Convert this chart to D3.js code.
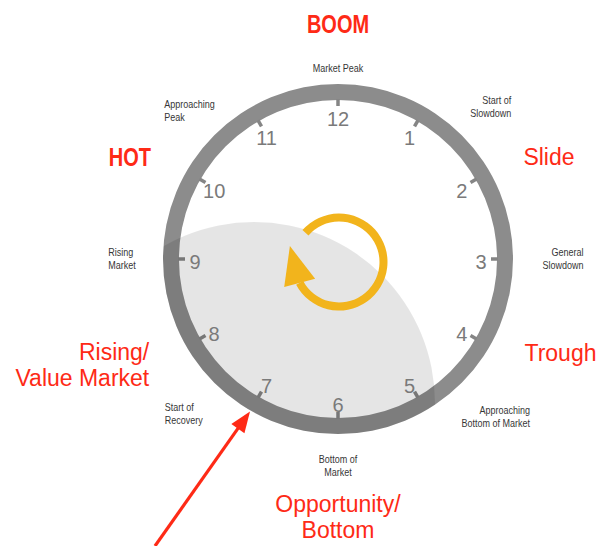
<!DOCTYPE html>
<html><head><meta charset="utf-8">
<script src="https://cdn.jsdelivr.net/npm/d3@7"></script>
<style>html,body{margin:0;padding:0;background:#fff;} svg{display:block;}</style>
</head><body>
<svg id="chart" width="598" height="546"></svg>
<script>
// ---- data ----
const hours = [12, 1, 2, 3, 4, 5, 6, 7, 8, 9, 10, 11];
const stageHours = [0, 1.5, 3, 4.5, 6, 7.5, 9, 10.5];
const stageNames = [
  ["Market Peak"], ["Start of", "Slowdown"], ["General", "Slowdown"],
  ["Approaching", "Bottom of Market"], ["Bottom of", "Market"],
  ["Start of", "Recovery"], ["Rising", "Market"], ["Approaching", "Peak"]
];
const phaseNames = [["BOOM"], ["Slide"], ["Trough"], ["Opportunity/", "Bottom"], ["Rising/", "Value Market"], ["HOT"]];
const pointerHour = 7;          // red arrow points at 7 o'clock
const cycleStartHour = 10.37;   // yellow cycle arrow start
const cycleEndHour = 8.07;      // yellow cycle arrow end (after a full turn)

// ---- layout ----
const W = 598, H = 546, cx = 338, cy = 259;
const Rout = 175, Rin = 159;
const stageLayout = [
  {r: 191, align: "middle"}, {r: 216, align: "end"}, {r: 225, align: "end"},
  {r: 223, align: "end"}, {r: 207, align: "middle"}, {r: 218, align: "start"},
  {r: 216, align: "start"}, {r: 210, align: "start"}
];
const phaseLayout = [
  {h: 0, r: 235, align: "middle", bold: true},
  {h: 2.137, r: 234.5, align: "middle"},
  {h: 3.765, r: 241.6, align: "middle"},
  {h: 6, r: 257.7, align: "middle"},
  {h: 8.25, r: 276.7, align: "end"},
  {h: 9.87, r: 231.7, align: "middle", bold: true}
];

const svg = d3.select("#chart");
const ang = d3.scaleLinear().domain([0, 12]).range([0, 2 * Math.PI]);
const pol = (h, r) => [r * Math.sin(ang(h)), -r * Math.cos(ang(h))];

const defs = svg.append("defs");
defs.append("clipPath").attr("id", "clockClip")
  .append("circle").attr("cx", 0).attr("cy", 0).attr("r", Rout);

const g = svg.append("g").attr("transform", `translate(${cx},${cy})`);

// ring
g.append("path")
  .attr("d", d3.arc()({innerRadius: Rin, outerRadius: Rout, startAngle: 0, endAngle: 2 * Math.PI}))
  .attr("fill", "#8c8c8c");

// ticks
g.selectAll("line.tk").data(hours).join("line").attr("class", "tk")
  .attr("x1", d => pol(d % 12, Rin + 1)[0]).attr("y1", d => pol(d % 12, Rin + 1)[1])
  .attr("x2", d => pol(d % 12, Rin - 6)[0]).attr("y2", d => pol(d % 12, Rin - 6)[1])
  .attr("stroke", "#858585").attr("stroke-width", 3.5);

// shaded region (lower-left part of cycle)
g.append("circle")
  .attr("cx", -84).attr("cy", 144).attr("r", 181)
  .attr("fill", "#000").attr("fill-opacity", 0.1)
  .attr("clip-path", "url(#clockClip)");

// numbers
g.append("g").attr("transform", "translate(0,3)")
  .selectAll("text").data(hours).join("text")
  .attr("x", d => pol(d % 12, 143)[0]).attr("y", d => pol(d % 12, 143)[1])
  .attr("dy", "0.36em").attr("text-anchor", "middle")
  .attr("font-family", "'Liberation Sans', Arial, sans-serif").attr("font-size", 20)
  .attr("fill", "#7a7a7a").text(d => d);

// yellow cycle arrow
const yc = g.append("g").attr("transform", "translate(1,3)");
const yR = 44.5, yW = 8;
yc.append("path")
  .attr("d", d3.arc()({innerRadius: yR - yW / 2, outerRadius: yR + yW / 2,
    startAngle: ang(cycleStartHour) - 2 * Math.PI, endAngle: ang(cycleEndHour)}))
  .attr("fill", "#f2b41c");
{
  const t = ang(cycleEndHour);
  const b = [yR * Math.sin(t), -yR * Math.cos(t)];
  const rot = 13 * Math.PI / 180;
  const a0 = Math.atan2(Math.sin(t), Math.cos(t)) + rot;
  const tan = [Math.cos(a0), Math.sin(a0)];
  const nrm = [-tan[1], tan[0]];
  const L = 38, hw = 16;
  const pts = [[b[0] + L * tan[0], b[1] + L * tan[1]],
               [b[0] + hw * nrm[0], b[1] + hw * nrm[1]],
               [b[0] - hw * nrm[0], b[1] - hw * nrm[1]]];
  yc.append("path").attr("d", d3.line()(pts) + "Z").attr("fill", "#f2b41c");
}

// text blocks (sx < 1 gives a condensed face)
function block(parent, lines, c, align, fs, lh, opts) {
  const sx = opts.sx || 1;
  const grp = parent.append("g");
  const texts = lines.map(s => grp.append("text").text(s)
    .attr("font-family", "'Liberation Sans', Arial, sans-serif").attr("font-size", fs)
    .attr("font-weight", opts.weight || "normal").attr("fill", opts.fill)
    .attr("text-anchor", align));
  const maxW = d3.max(texts, t => t.node().getComputedTextLength()) * sx;
  const x = align === "start" ? c[0] - maxW / 2 : align === "end" ? c[0] + maxW / 2 : c[0];
  texts.forEach((t, i) => {
    const y = c[1] + (i - (lines.length - 1) / 2) * lh + 0.36 * fs;
    t.attr("transform", `translate(${x},${y}) scale(${sx},1)`);
  });
}
stageNames.forEach((lines, i) => {
  block(g, lines, pol(stageHours[i], stageLayout[i].r), stageLayout[i].align, 11, 13,
    {fill: "#363636", sx: 0.82});
});

// phase labels
phaseNames.forEach((lines, i) => {
  const L = phaseLayout[i];
  block(g, lines, pol(L.h, L.r), L.align, L.bold ? 25 : 23, 25.5,
    L.bold ? {weight: "bold", fill: "#fe2a16", sx: 0.8} : {fill: "#fe2a16"});
});

// red pointer arrow
{
  const tip = pol(pointerHour, Rout + 1);
  const tail = [155 - cx, H - cy];
  const dx = tip[0] - tail[0], dy = tip[1] - tail[1];
  const len = Math.hypot(dx, dy), ux = dx / len, uy = dy / len;
  const hl = 21, hw = 8;
  const base = [tip[0] - hl * ux, tip[1] - hl * uy];
  g.append("line").attr("x1", tail[0]).attr("y1", tail[1])
    .attr("x2", base[0] + 2 * ux).attr("y2", base[1] + 2 * uy)
    .attr("stroke", "#fe2a16").attr("stroke-width", 3.2);
  g.append("path").attr("d", d3.line()([tip, [base[0] - hw * uy, base[1] + hw * ux], [base[0] + hw * uy, base[1] - hw * ux]]) + "Z")
    .attr("fill", "#fe2a16");
}
</script>
</body></html>
